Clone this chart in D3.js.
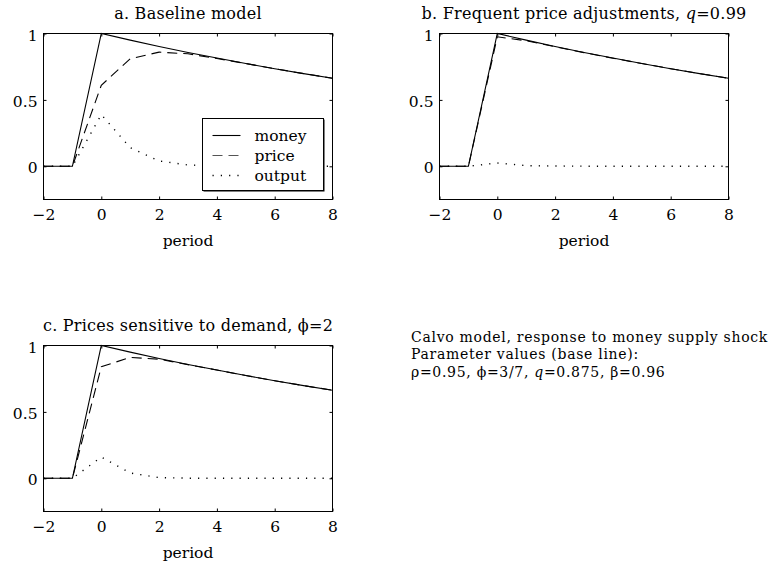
<!DOCTYPE html>
<html>
<head>
<meta charset="utf-8">
<script src="https://cdn.jsdelivr.net/npm/d3@7"></script>
<style>
  body { margin: 0; background: #fff; }
  svg { display: block; }
  text { font-family: "DejaVu Serif", "Liberation Serif", serif; fill: #000; }
</style>
</head>
<body>
<div id="chart"></div>
<script>
// periods after the shock
const periods = [-2, -1, 0, 1, 2, 3, 4, 5, 6, 7, 8];
const money = [0, 0, 1, 0.95, 0.9025, 0.857, 0.815, 0.774, 0.735, 0.698, 0.663];

// a. baseline
const priceA = [0, 0, 0.61, 0.81, 0.86, 0.847, 0.812, 0.774, 0.735, 0.698, 0.663];
const outputA = [0, 0, 0.39, 0.14, 0.04, 0.01, 0.003, 0, 0, 0, 0];
// b. q = 0.99
const priceB = [0, 0, 0.975, 0.945, 0.9, 0.856, 0.814, 0.774, 0.735, 0.698, 0.663];
const outputB = [0, 0, 0.025, 0.005, 0.002, 0.001, 0, 0, 0, 0, 0];
// c. phi = 2
const priceC = [0, 0, 0.84, 0.91, 0.897, 0.856, 0.815, 0.774, 0.735, 0.698, 0.663];
const outputC = [0, 0, 0.16, 0.04, 0.005, 0.001, 0, 0, 0, 0, 0];

const xTicks = [-2, 0, 2, 4, 6, 8];
const yTicks = [0, 0.5, 1];
const legendLabels = ["money", "price", "output"];

const W = 769, H = 566;
const pw = 289, ph = 166;

const svg = d3.select("#chart").append("svg")
  .attr("width", W)
  .attr("height", H);

const x = d3.scaleLinear().domain([-2, 8]).range([0, pw]);
const y = d3.scaleLinear().domain([-0.25, 1]).range([ph, 0]);

const styles = [
  { dash: null },
  { dash: "10,6" },
  { dash: "1.2,7.1" }
];

function drawPanel(left, top, title, series, withLegend) {
  const g = svg.append("g").attr("transform", `translate(${left},${top})`);

  const line = d3.line()
    .x((d, i) => x(periods[i]))
    .y(d => y(d));

  // title
  title(g.append("text")
    .attr("x", pw / 2)
    .attr("y", -15)
    .attr("text-anchor", "middle")
    .style("font-size", "16px")
    .style("letter-spacing", "0.25px"));

  // lines
  series.forEach((s, i) => {
    g.append("path")
      .datum(s)
      .attr("d", line)
      .attr("fill", "none")
      .attr("stroke", "#000")
      .attr("stroke-width", i === 2 ? 1.4 : 1.1)
      .attr("stroke-dasharray", styles[i].dash);
  });

  // axes with inward ticks on all four sides
  const xb = g.append("g").attr("transform", `translate(0,${ph})`)
    .call(d3.axisBottom(x).tickValues(xTicks).tickSizeInner(-3).tickSizeOuter(0).tickPadding(9));
  const xt = g.append("g")
    .call(d3.axisTop(x).tickValues(xTicks).tickSizeInner(-3).tickSizeOuter(0).tickFormat(""));
  const yl = g.append("g")
    .call(d3.axisLeft(y).tickValues(yTicks).tickSizeInner(-3).tickSizeOuter(0).tickPadding(6).tickFormat(d3.format("")));
  const yr = g.append("g").attr("transform", `translate(${pw},0)`)
    .call(d3.axisRight(y).tickValues(yTicks).tickSizeInner(-3).tickSizeOuter(0).tickFormat(""));

  [xb, xt, yl, yr].forEach(a => {
    a.select(".domain").remove();
    a.selectAll("text").style("font-size", "15.5px").attr("font-family", null);
  });
  yl.selectAll("text").attr("dy", "0.42em");

  g.append("rect")
    .attr("width", pw)
    .attr("height", ph)
    .attr("fill", "none")
    .attr("stroke", "#000");

  g.append("text")
    .attr("x", pw / 2)
    .attr("y", ph + 46)
    .attr("text-anchor", "middle")
    .style("font-size", "15.5px")
    .text("period");

  if (withLegend) {
    const lg = g.append("g").attr("transform", "translate(159,85)");
    lg.append("rect").attr("x", 1).attr("y", 1).attr("width", 121).attr("height", 72).attr("fill", "#000");
    lg.append("rect").attr("width", 121).attr("height", 72).attr("fill", "#fff").attr("stroke", "#000");
    legendLabels.forEach((lab, i) => {
      const yy = 17 + i * 20;
      lg.append("line")
        .attr("x1", 10).attr("x2", 38)
        .attr("y1", yy).attr("y2", yy)
        .attr("stroke", i === 1 ? "#555" : "#000")
        .attr("stroke-width", i === 2 ? 1.4 : 1.1)
        .attr("stroke-dasharray", styles[i].dash);
      lg.append("text")
        .attr("x", 52)
        .attr("y", yy + 5)
        .style("font-size", "15.5px")
        .text(lab);
    });
  }
}

drawPanel(43.5, 33.5, t => t.text("a. Baseline model"),
  [money, priceA, outputA], true);

drawPanel(439.5, 33.5, t => {
  t.append("tspan").text("b. Frequent price adjustments, ");
  t.append("tspan").style("font-style", "italic").text("q");
  t.append("tspan").text("=0.99");
}, [money, priceB, outputB], false);

drawPanel(43.5, 345.5, t => t.text("c. Prices sensitive to demand, \u03d5=2"),
  [money, priceC, outputC], false);

// note text
const note = svg.append("text")
  .attr("x", 411)
  .attr("y", 341.5)
  .style("font-size", "14px")
  .style("letter-spacing", "0.7px");
note.append("tspan").text("Calvo model, response to money supply shock");
note.append("tspan").attr("x", 411).attr("dy", 17.5).text("Parameter values (base line):");
note.append("tspan").attr("x", 411).attr("dy", 17.5).text("\u03c1=0.95, \u03d5=3/7, ");
note.append("tspan").style("font-style", "italic").text("q");
note.append("tspan").text("=0.875, \u03b2=0.96");
</script>
</body>
</html>
